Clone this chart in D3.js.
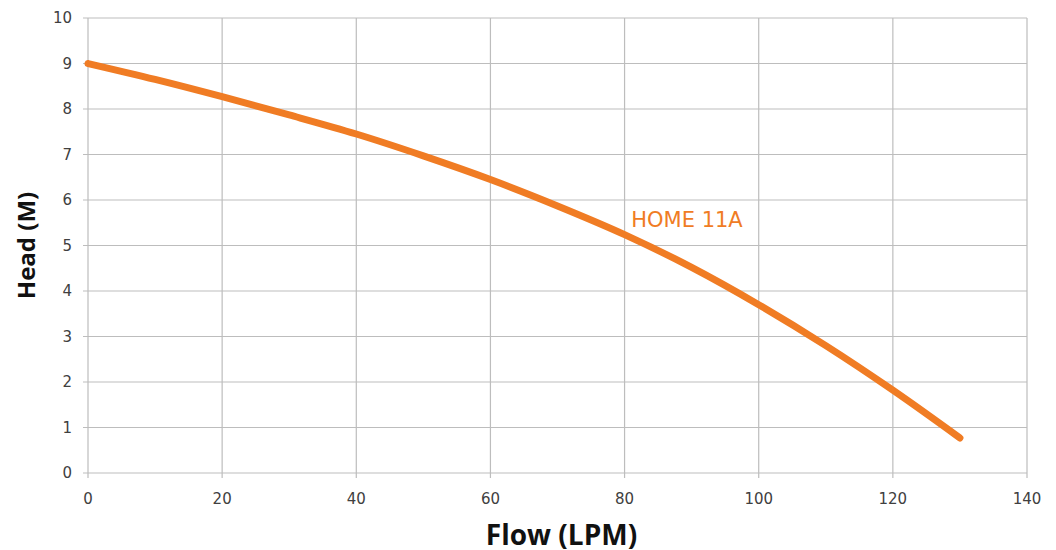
<!DOCTYPE html>
<html>
<head>
<meta charset="utf-8">
<script src="https://cdn.jsdelivr.net/npm/d3@7"></script>
<style>
  body { margin: 0; background: #fff; }
  svg { display: block; }
</style>
</head>
<body>
<script>
// Pump curve for HOME 11A
const flow = [0, 10, 20, 30, 40, 50, 60, 70, 80, 90, 100, 110, 120, 130];
const head = [9.0, 8.65, 8.27, 7.87, 7.45, 6.97, 6.45, 5.87, 5.24, 4.52, 3.7, 2.8, 1.82, 0.77];
const xTicks = [0, 20, 40, 60, 80, 100, 120, 140];
const yTicks = [0, 1, 2, 3, 4, 5, 6, 7, 8, 9, 10];
const seriesName = "HOME 11A";

const width = 1056, height = 550;
const margin = { top: 18, right: 29, bottom: 77, left: 88 };
const innerWidth = width - margin.left - margin.right;
const innerHeight = height - margin.top - margin.bottom;

const svg = d3.select("body").append("svg")
  .attr("width", width)
  .attr("height", height);

const g = svg.append("g")
  .attr("transform", `translate(${margin.left}, ${margin.top})`);

const x = d3.scaleLinear().domain([0, 140]).range([0, innerWidth]);
const y = d3.scaleLinear().domain([0, 10]).range([innerHeight, 0]);

// grid
g.append("g").selectAll("line")
  .data(yTicks).enter().append("line")
  .attr("x1", -5).attr("x2", innerWidth)
  .attr("y1", d => y(d)).attr("y2", d => y(d))
  .attr("stroke", "#bdbdbd").attr("stroke-width", 1.2);

g.append("g").selectAll("line")
  .data(xTicks).enter().append("line")
  .attr("x1", d => x(d)).attr("x2", d => x(d))
  .attr("y1", 0).attr("y2", innerHeight + 5)
  .attr("stroke", "#bdbdbd").attr("stroke-width", 1.2);

// tick labels
g.append("g").selectAll("text")
  .data(yTicks).enter().append("text")
  .attr("x", -16).attr("y", d => y(d))
  .attr("dy", "0.36em")
  .attr("text-anchor", "end")
  .attr("font-family", "DejaVu Sans, sans-serif")
  .attr("font-size", "15px")
  .attr("fill", "#404040")
  .text(d => d);

g.append("g").selectAll("text")
  .data(xTicks).enter().append("text")
  .attr("x", d => x(d)).attr("y", innerHeight + 31)
  .attr("text-anchor", "middle")
  .attr("font-family", "DejaVu Sans, sans-serif")
  .attr("font-size", "15px")
  .attr("fill", "#404040")
  .text(d => d);

// curve
const pts = flow.map((f, i) => [f, head[i]]);
const line = d3.line()
  .x(d => x(d[0]))
  .y(d => y(d[1]))
  .curve(d3.curveMonotoneX);

g.append("path")
  .datum(pts)
  .attr("d", line)
  .attr("fill", "none")
  .attr("stroke", "#f07c24")
  .attr("stroke-width", 7)
  .attr("stroke-linecap", "round");

// series label
g.append("text")
  .attr("x", x(81)).attr("y", y(5.4))
  .attr("font-family", "DejaVu Sans, sans-serif")
  .attr("font-size", "21px")
  .attr("fill", "#f07c24")
  .text(seriesName);

// axis titles
svg.append("text")
  .attr("x", margin.left + innerWidth / 2 + 4).attr("y", 545)
  .attr("text-anchor", "middle")
  .attr("font-family", "Open Sans, sans-serif")
  .attr("font-weight", "bold")
  .attr("font-size", "28px")
  .attr("fill", "#111")
  .text("Flow (LPM)");

svg.append("text")
  .attr("transform", `translate(35, ${margin.top + innerHeight / 2}) rotate(-90)`)
  .attr("text-anchor", "middle")
  .attr("font-family", "Open Sans, sans-serif")
  .attr("font-weight", "bold")
  .attr("font-size", "24px")
  .attr("fill", "#111")
  .text("Head (M)");
</script>
</body>
</html>
